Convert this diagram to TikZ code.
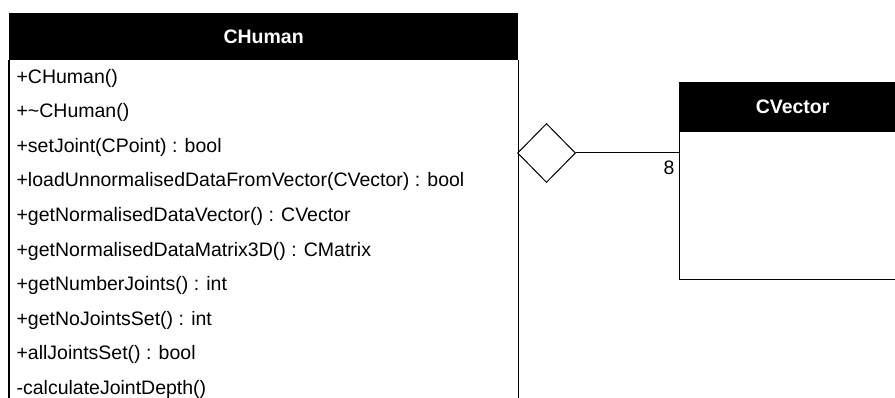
\documentclass[tikz,border=0pt]{standalone}
\usepackage{fontspec}
\setmainfont{Liberation Sans}
\usetikzlibrary{positioning,shapes.geometric}

\tikzset{
  kopf/.style={draw, fill=black, text=white, font=\bfseries\fontsize{19.5}{23}\selectfont, anchor=north west, inner sep=0pt},
  eintrag/.style={anchor=west, inner sep=0pt, font=\fontsize{19.5}{23}\selectfont},
  raute/.style={draw, diamond, aspect=1, inner sep=0pt, line width=1pt, minimum width=58pt, minimum height=59pt}
}

\begin{document}
\begin{tikzpicture}[x=1pt, y=1pt, line width=1.2pt]
		\useasboundingbox (0,0) rectangle (895,-398);
		\clip (0,0) rectangle (895,-398);

		%Klasse CHuman
		\node[kopf, minimum width=508pt, minimum height=46pt] (human) at (9,-13) {CHuman};
		\draw[] (human.south west) -- ++(0,-360);
		\draw[] (human.south east) -- ++(0,-360);

		%Methoden
		\foreach \m [count=\i] in {+CHuman(), +\textasciitilde CHuman(), +setJoint(CPoint) : bool,
			+loadUnnormalisedDataFromVector(CVector) : bool, +getNormalisedDataVector() : CVector,
			+getNormalisedDataMatrix3D() : CMatrix, +getNumberJoints() : int, +getNoJointsSet() : int,
			+allJointsSet() : bool, -calculateJointDepth()}
			\node[eintrag] (m\i) at (16,{-78-34.6*(\i-1)}) {\m};

		%Klasse CVector
		\node[kopf, minimum width=226pt, minimum height=47.5pt] (vector) at (679,-82) {CVector};
		\node[draw, anchor=north west, minimum width=226pt, minimum height=148pt] (vecbody) at (vector.south west) {};

		%Aggregation
		\node[raute, anchor=west] (raute) at (517,-153) {};
		\draw[line width=1pt] (raute.east) -- (raute.east -| vecbody.west)
			node[pos=1, below left, inner sep=4pt, yshift=-3pt, font=\fontsize{19.5}{23}\selectfont] (mult) {8};
\end{tikzpicture}
\end{document}
